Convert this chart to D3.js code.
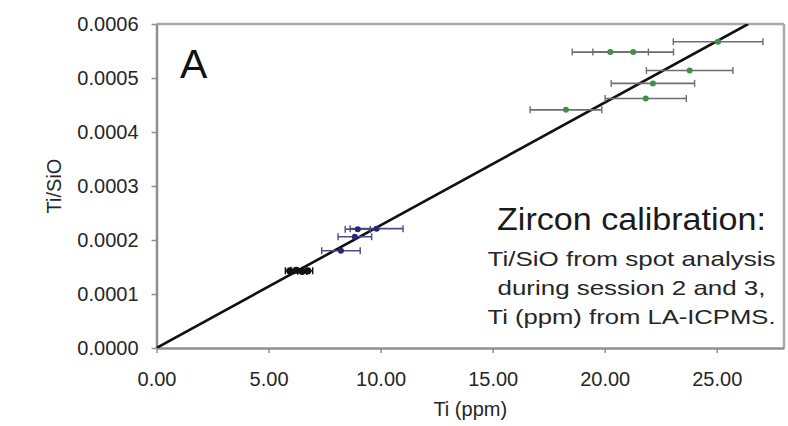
<!DOCTYPE html>
<html><head><meta charset="utf-8">
<script src="https://cdn.jsdelivr.net/npm/d3@7"></script>
<style>
body{margin:0;background:#fff}
svg{display:block}
text{font-family:"Liberation Sans",Arial,Helvetica,sans-serif}
</style>
</head><body>
<svg id="chart" width="788" height="426"></svg>
<script>
// ---- data ----
const xTicks = [0, 5, 10, 15, 20, 25];
const yTicks = [0, 0.0001, 0.0002, 0.0003, 0.0004, 0.0005, 0.0006];
const xDomain = [0, 28];
const yDomain = [0, 0.0006];

const greenTi    = [25.06, 20.25, 21.27, 23.79, 22.15, 21.83, 18.27];
const greenRatio = [0.000567, 0.000548, 0.000548, 0.000514, 0.000490, 0.000462, 0.000441];
const greenErr   = [2.0, 1.7, 1.8, 1.93, 1.86, 1.81, 1.6];

const blueTi    = [8.23, 8.85, 8.98, 9.82];
const blueRatio = [0.000180, 0.000206, 0.000220, 0.000221];
const blueErr   = [0.86, 0.75, 0.56, 1.18];

const blackTi    = [5.95, 6.25, 6.5, 6.75];
const blackRatio = [0.000143, 0.000144, 0.000142, 0.000143];
const blackErr   = [0.2, 0.25, 0.2, 0.22];

const fitTi    = [0, 26.4];
const fitRatio = [0, 0.0006];

const panelLabel = "A";
const xTitle = "Ti (ppm)";
const yTitle = "Ti/SiO";
const noteTitle = "Zircon calibration:";
const noteLines = ["Ti/SiO from spot analysis", "during session 2 and 3,", "Ti (ppm) from LA-ICPMS."];

// ---- drawing ----
const svg = d3.select("#chart");
const x = d3.scaleLinear().domain(xDomain).range([156.5, 784]);
const y = d3.scaleLinear().domain(yDomain).range([348, 24]);

svg.append("defs").append("clipPath").attr("id", "plotclip")
  .append("rect").attr("x", x(xDomain[0])).attr("y", y(yDomain[1]))
  .attr("width", x(xDomain[1]) - x(xDomain[0])).attr("height", y(yDomain[0]) - y(yDomain[1]));

const frameColor = "#a9a9a9";
// top & right frame
svg.append("line").attr("x1", x(xDomain[0])).attr("x2", x(xDomain[1]))
  .attr("y1", y(yDomain[1])).attr("y2", y(yDomain[1]))
  .attr("stroke", frameColor).attr("stroke-width", 2.5);
svg.append("line").attr("x1", x(xDomain[1])).attr("x2", x(xDomain[1]))
  .attr("y1", y(yDomain[0])).attr("y2", y(yDomain[1]))
  .attr("stroke", frameColor).attr("stroke-width", 2.5);

// axes
const gx = svg.append("g").attr("transform", `translate(0,${y(0)})`)
  .call(d3.axisBottom(x).tickValues(xTicks).tickFormat(d3.format(".2f"))
    .tickSize(5).tickSizeOuter(0).tickPadding(19));
const gy = svg.append("g").attr("transform", `translate(${x(0)},0)`)
  .call(d3.axisLeft(y).tickValues(yTicks).tickFormat(d3.format(".4f"))
    .tickSize(5).tickSizeOuter(0).tickPadding(13));
[gx, gy].forEach(g => {
  g.attr("font-family", null).attr("font-size", null);
  g.select(".domain").attr("stroke", "#8f8f8f").attr("stroke-width", 2.5);
  g.selectAll(".tick line").attr("stroke", "#8f8f8f").attr("stroke-width", 1.5);
  g.selectAll(".tick text").attr("fill", "#262626").style("font-size", "20px");
});

// axis titles
svg.append("text").attr("x", (x(xDomain[0]) + x(xDomain[1])) / 2).attr("y", 416)
  .attr("text-anchor", "middle").attr("fill", "#262626").style("font-size", "20px").text(xTitle);
svg.append("text").attr("transform", `translate(61,${(y(yDomain[0]) + y(yDomain[1])) / 2}) rotate(-90)`)
  .attr("text-anchor", "middle").attr("fill", "#262626").style("font-size", "20px").text(yTitle);

// regression line
svg.append("line").attr("clip-path", "url(#plotclip)")
  .attr("x1", x(fitTi[0])).attr("y1", y(fitRatio[0]))
  .attr("x2", x(fitTi[1])).attr("y2", y(fitRatio[1]))
  .attr("stroke", "#111").attr("stroke-width", 2.6);

// error bars + markers
function series(tis, ratios, errs, barColor, fill, r) {
  const data = tis.map((t, i) => ({t, r: ratios[i], e: errs[i]}));
  const g = svg.append("g");
  const bars = g.selectAll("g.eb").data(data).join("g");
  bars.append("line").attr("x1", d => x(d.t - d.e)).attr("x2", d => x(d.t + d.e))
    .attr("y1", d => y(d.r)).attr("y2", d => y(d.r)).attr("stroke", barColor).attr("stroke-width", 1.6);
  bars.append("line").attr("x1", d => x(d.t - d.e)).attr("x2", d => x(d.t - d.e))
    .attr("y1", d => y(d.r) - 3.5).attr("y2", d => y(d.r) + 3.5).attr("stroke", barColor).attr("stroke-width", 1.4);
  bars.append("line").attr("x1", d => x(d.t + d.e)).attr("x2", d => x(d.t + d.e))
    .attr("y1", d => y(d.r) - 3.5).attr("y2", d => y(d.r) + 3.5).attr("stroke", barColor).attr("stroke-width", 1.4);
  g.selectAll("circle").data(data).join("circle")
    .attr("cx", d => x(d.t)).attr("cy", d => y(d.r)).attr("r", r).attr("fill", fill);
}
series(greenTi, greenRatio, greenErr, "#6e6e6e", "#3f8f45", 3);
series(blueTi, blueRatio, blueErr, "#4b4b86", "#26267a", 3);
series(blackTi, blackRatio, blackErr, "#111", "#111", 3.6);

// panel label
svg.append("text").attr("x", 180).attr("y", 78).attr("fill", "#111").style("font-size", "41px").text(panelLabel);

// note
const cx = 631.5;
svg.append("text").attr("x", cx).attr("y", 230).attr("text-anchor", "middle")
  .attr("textLength", 269).attr("lengthAdjust", "spacingAndGlyphs")
  .attr("fill", "#1a1a1a").style("font-size", "31px").text(noteTitle);
const widths = [288, 268, 288];
noteLines.forEach((s, i) => {
  svg.append("text").attr("x", cx).attr("y", 266 + i * 29).attr("text-anchor", "middle")
    .attr("textLength", widths[i]).attr("lengthAdjust", "spacingAndGlyphs")
    .attr("fill", "#262626").style("font-size", "21px").text(s);
});
</script>
</body></html>
